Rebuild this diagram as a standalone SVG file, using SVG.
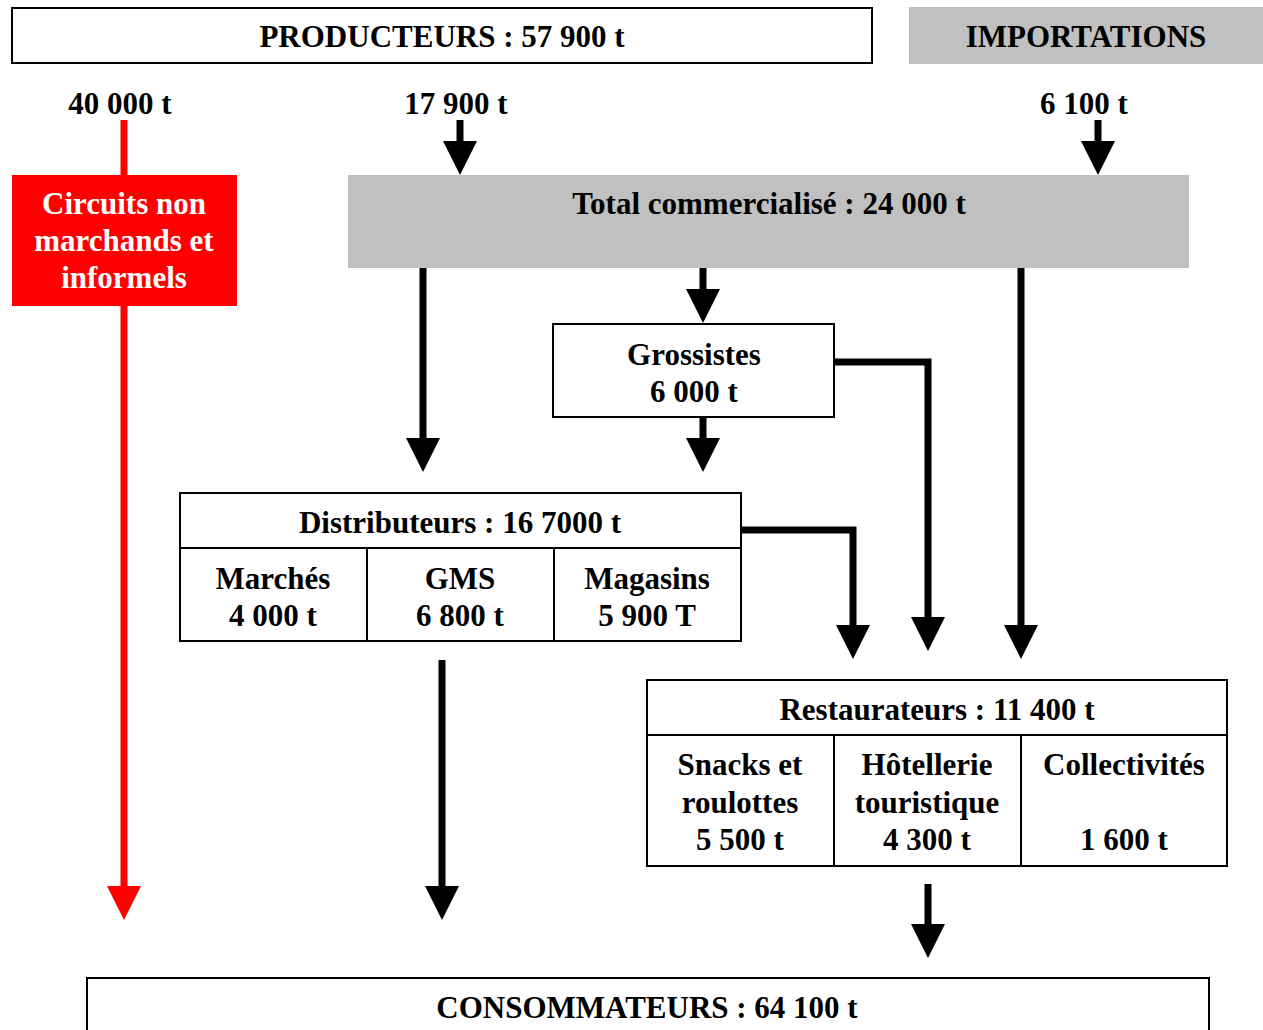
<svg xmlns="http://www.w3.org/2000/svg" width="1263" height="1030" viewBox="0 0 1263 1030">
<style>
text{font-family:"Liberation Serif","Times New Roman",serif;font-weight:bold;font-size:31px;text-anchor:middle;fill:#000}
.box{fill:#fff;stroke:#000;stroke-width:2}
.grey{fill:#c0c0c0;stroke:none}
.ln{fill:none;stroke:#000;stroke-width:2}
.con{fill:none;stroke:#000;stroke-width:7;marker-end:url(#ah)}
.red{fill:none;stroke:#ff0000;stroke-width:7}
.w{fill:#fff}
</style>
<defs>
<marker id="ah" viewBox="0 0 34 34" markerWidth="34" markerHeight="34" refX="0" refY="17" orient="auto" markerUnits="userSpaceOnUse"><path d="M0,0 L34,17 L0,34 z" fill="#000"/></marker>
<marker id="ahr" viewBox="0 0 34 34" markerWidth="34" markerHeight="34" refX="0" refY="17" orient="auto" markerUnits="userSpaceOnUse"><path d="M0,0 L34,17 L0,34 z" fill="#ff0000"/></marker>
</defs>
<rect width="1263" height="1030" fill="#fff"/>
<g id="connectors">
<path class="con" d="M460,120 V141"/>
<path class="con" d="M1098,120 V141"/>
<path class="con" d="M423,268 V438"/>
<path class="con" d="M703,268 V289"/>
<path class="con" d="M703,417 V438"/>
<path class="con" d="M835,362 H928 V617"/>
<path class="con" d="M741,530 H853 V625"/>
<path class="con" d="M1021,268 V625"/>
<path class="con" d="M442,660 V886"/>
<path class="con" d="M928,884 V924"/>
<path class="red" d="M124,120 V175"/>
<path class="red" d="M124,306 V886" marker-end="url(#ahr)"/>
</g>
<g id="producteurs">
<rect class="box" x="12" y="8" width="860" height="55"/>
<text x="442" y="47">PRODUCTEURS : 57 900 t</text>
</g>
<g id="importations">
<rect class="grey" x="909" y="7" width="354" height="57"/>
<text x="1086" y="47">IMPORTATIONS</text>
</g>
<g id="label-40000"><text x="120" y="114">40 000 t</text></g>
<g id="label-17900"><text x="456" y="114">17 900 t</text></g>
<g id="label-6100"><text x="1084" y="114">6 100 t</text></g>
<g id="circuits">
<rect x="12" y="175" width="225" height="131" fill="#ff0000"/>
<text class="w" x="124" y="214">Circuits non</text>
<text class="w" x="124" y="251">marchands et</text>
<text class="w" x="124" y="288">informels</text>
</g>
<g id="total">
<rect class="grey" x="348" y="175" width="841" height="93"/>
<text x="769" y="214">Total commercialisé : 24 000 t</text>
</g>
<g id="grossistes">
<rect class="box" x="553" y="324" width="281" height="93"/>
<text x="694" y="365">Grossistes</text>
<text x="694" y="402">6 000 t</text>
</g>
<g id="distributeurs">
<rect class="box" x="180" y="493" width="561" height="148"/>
<path class="ln" d="M180,548 H741 M367,548 V641 M554,548 V641"/>
<text x="460" y="533">Distributeurs : 16 7000 t</text>
<text x="273" y="589">Marchés</text>
<text x="273" y="626">4 000 t</text>
<text x="460" y="589">GMS</text>
<text x="460" y="626">6 800 t</text>
<text x="647" y="589">Magasins</text>
<text x="647" y="626">5 900 T</text>
</g>
<g id="restaurateurs">
<rect class="box" x="647" y="680" width="580" height="186"/>
<path class="ln" d="M647,735 H1227 M834,735 V866 M1021,735 V866"/>
<text x="937" y="720">Restaurateurs : 11 400 t</text>
<text x="740" y="775">Snacks et</text>
<text x="740" y="813">roulottes</text>
<text x="740" y="850">5 500 t</text>
<text x="927" y="775">Hôtellerie</text>
<text x="927" y="813">touristique</text>
<text x="927" y="850">4 300 t</text>
<text x="1124" y="775">Collectivités</text>
<text x="1124" y="850">1 600 t</text>
</g>
<g id="consommateurs">
<rect class="box" x="87" y="978" width="1122" height="60"/>
<text x="647" y="1018">CONSOMMATEURS : 64 100 t</text>
</g>
</svg>
